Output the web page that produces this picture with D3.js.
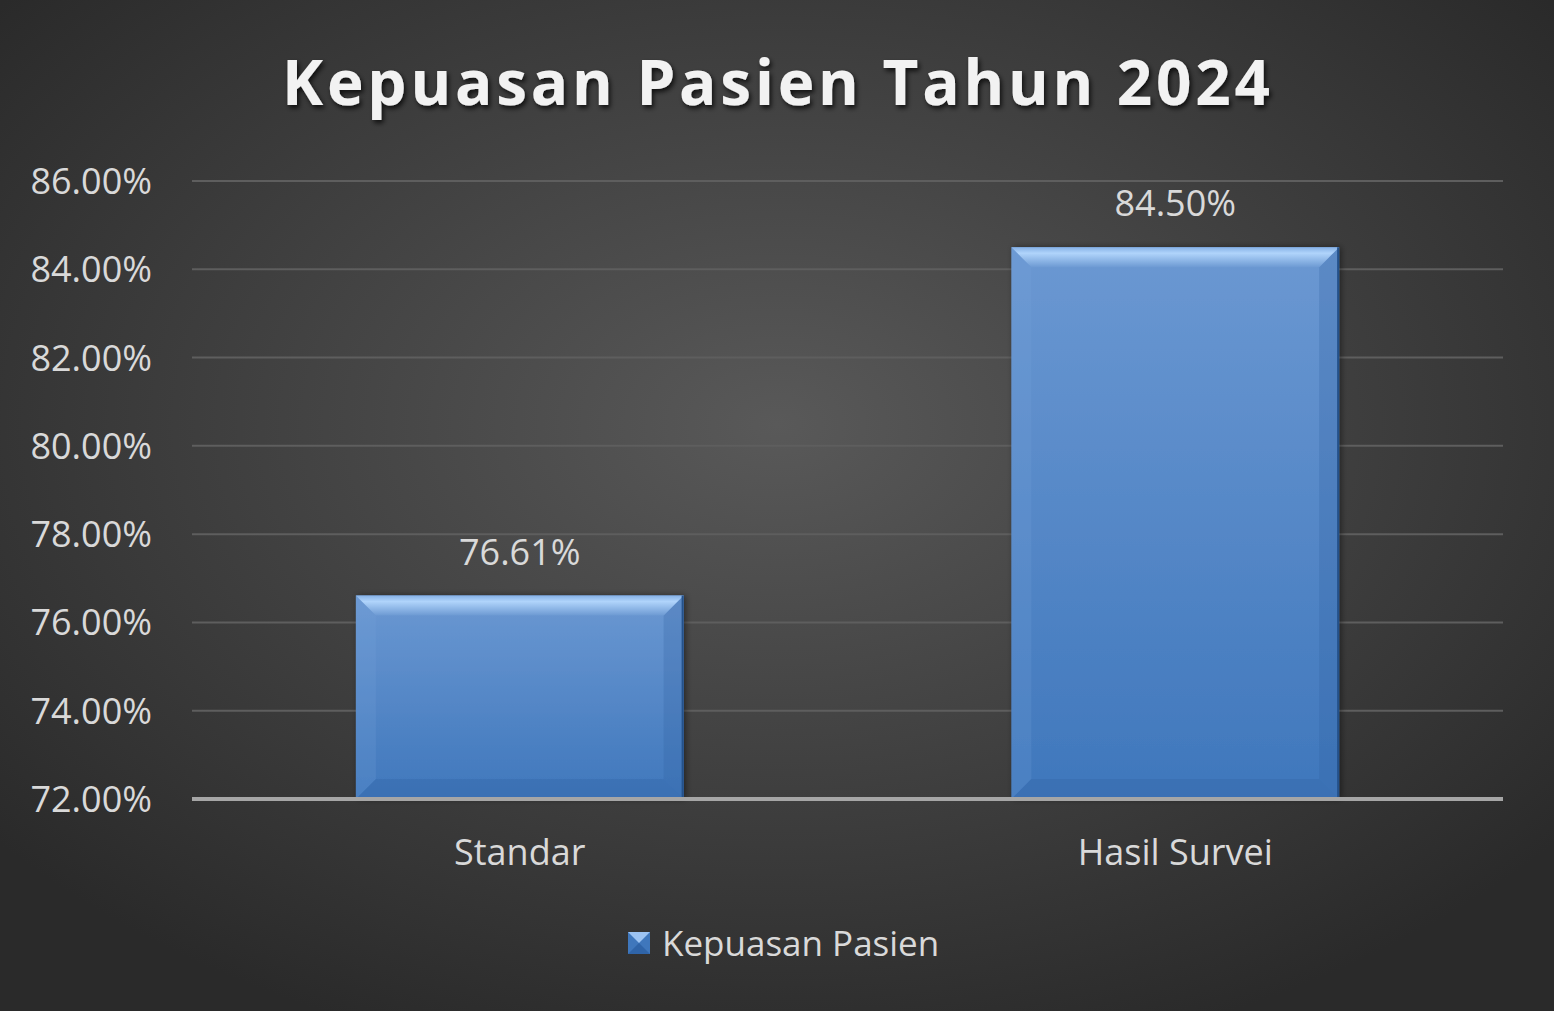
<!DOCTYPE html>
<html>
<head>
<meta charset="utf-8">
<script src="https://cdn.jsdelivr.net/npm/d3@7"></script>
<style>
  html, body { margin: 0; padding: 0; background: #2b2b2b; }
  svg { display: block; }
</style>
</head>
<body>
<div id="chart"></div>
<script>
// chart data
const categories = ['Standar', 'Hasil Survei'];
const values = [76.61, 84.50];
const yTicks = [72, 74, 76, 78, 80, 82, 84, 86];
const seriesName = 'Kepuasan Pasien';
const chartTitle = 'Kepuasan Pasien Tahun 2024';

const W = 1554, H = 1011;
const margin = {top: 181, right: 51, bottom: 212, left: 192};
const font = "'Open Sans', 'DejaVu Sans', sans-serif";

const svg = d3.select('#chart').append('svg')
    .attr('width', W)
    .attr('height', H);

const defs = svg.append('defs');

// background: lighter in the middle, darker at edges
const bg = defs.append('radialGradient')
    .attr('id', 'bgGrad')
    .attr('cx', '50%').attr('cy', '42%').attr('r', '65%');
bg.append('stop').attr('offset', '0%').attr('stop-color', '#595959');
bg.append('stop').attr('offset', '100%').attr('stop-color', '#2a2a2a');

// bar body
const barGrad = defs.append('linearGradient')
    .attr('id', 'barGrad')
    .attr('x1', 0).attr('y1', 0).attr('x2', 0).attr('y2', 1);
barGrad.append('stop').attr('offset', '0%').attr('stop-color', '#6b98d2');
barGrad.append('stop').attr('offset', '100%').attr('stop-color', '#3f77bc');

// top bevel highlight
const topGrad = defs.append('linearGradient')
    .attr('id', 'topGrad')
    .attr('x1', 0).attr('y1', 0).attr('x2', 0).attr('y2', 1);
topGrad.append('stop').attr('offset', '0%').attr('stop-color', '#86b1e6');
topGrad.append('stop').attr('offset', '30%').attr('stop-color', '#b0d4fb');
topGrad.append('stop').attr('offset', '100%').attr('stop-color', '#6d9ad3');

const shadow = defs.append('filter').attr('id', 'titleShadow')
    .attr('x', '-5%').attr('y', '-20%').attr('width', '110%').attr('height', '150%');
shadow.append('feDropShadow')
    .attr('dx', 2).attr('dy', 3).attr('stdDeviation', 2.5)
    .attr('flood-color', '#000').attr('flood-opacity', 0.75);

const barShadow = defs.append('filter').attr('id', 'barShadow')
    .attr('x', '-10%').attr('y', '-10%').attr('width', '120%').attr('height', '120%');
barShadow.append('feDropShadow')
    .attr('dx', 2).attr('dy', 0).attr('stdDeviation', 3)
    .attr('flood-color', '#000').attr('flood-opacity', 0.45);

svg.append('rect')
    .attr('width', W).attr('height', H)
    .attr('fill', 'url(#bgGrad)');

const innerW = W - margin.left - margin.right;
const innerH = H - margin.top - margin.bottom;

const x = d3.scaleBand()
    .domain(categories)
    .range([0, innerW])
    .paddingInner(0.5)
    .paddingOuter(0.25);

const y = d3.scaleLinear()
    .domain([d3.min(yTicks), d3.max(yTicks)])
    .range([innerH, 0]);

const g = svg.append('g')
    .attr('transform', 'translate(' + margin.left + ',' + margin.top + ')');

// gridlines
g.append('g').selectAll('line')
    .data(yTicks.slice(1))
    .enter().append('line')
    .attr('x1', 0).attr('x2', innerW)
    .attr('y1', d => y(d)).attr('y2', d => y(d))
    .attr('stroke', '#5e5e5e')
    .attr('stroke-width', 2);

// y tick labels
g.append('g').selectAll('text')
    .data(yTicks)
    .enter().append('text')
    .attr('x', -40)
    .attr('y', d => y(d) + 13)
    .attr('text-anchor', 'end')
    .attr('font-family', font)
    .attr('font-size', 36)
    .attr('fill', '#d9d9d9')
    .text(d => d.toFixed(2) + '%');

// bars with bevel
const bevel = 20;
const bars = g.append('g').selectAll('g.bar')
    .data(values)
    .enter().append('g')
    .attr('class', 'bar')
    .attr('transform', (d, i) => 'translate(' + x(categories[i]) + ',' + y(d) + ')');

bars.each(function(d) {
  const b = d3.select(this);
  const bw = x.bandwidth();
  const bh = innerH - y(d);
  b.append('rect')
      .attr('width', bw).attr('height', bh)
      .attr('fill', 'url(#barGrad)')
      .attr('filter', 'url(#barShadow)');
  // left bevel
  b.append('polygon')
      .attr('points', [[0, 0], [bevel, bevel], [bevel, bh - bevel], [0, bh]].join(' '))
      .attr('fill', '#7aa5dc').attr('opacity', 0.2);
  // right bevel
  b.append('polygon')
      .attr('points', [[bw, 0], [bw - bevel, bevel], [bw - bevel, bh - bevel], [bw, bh]].join(' '))
      .attr('fill', '#2f5f9e').attr('opacity', 0.25);
  // bottom bevel
  b.append('polygon')
      .attr('points', [[0, bh], [bevel, bh - bevel], [bw - bevel, bh - bevel], [bw, bh]].join(' '))
      .attr('fill', '#2d5d9c').attr('opacity', 0.25);
  // top bevel
  b.append('polygon')
      .attr('points', [[0, 0], [bw, 0], [bw - bevel, bevel], [bevel, bevel]].join(' '))
      .attr('fill', 'url(#topGrad)');
  b.append('line')
      .attr('x1', bw - 1).attr('x2', bw - 1).attr('y1', 0).attr('y2', bh)
      .attr('stroke', '#24518a').attr('stroke-width', 2);
});

// data labels
g.append('g').selectAll('text')
    .data(values)
    .enter().append('text')
    .attr('x', (d, i) => x(categories[i]) + x.bandwidth() / 2)
    .attr('y', d => y(d) - 31)
    .attr('text-anchor', 'middle')
    .attr('font-family', font)
    .attr('font-size', 36)
    .attr('fill', '#d9d9d9')
    .text(d => d.toFixed(2) + '%');

// x axis line
g.append('line')
    .attr('x1', 0).attr('x2', innerW)
    .attr('y1', innerH).attr('y2', innerH)
    .attr('stroke', '#a6a6a6')
    .attr('stroke-width', 4);

// category labels
g.append('g').selectAll('text')
    .data(categories)
    .enter().append('text')
    .attr('x', d => x(d) + x.bandwidth() / 2)
    .attr('y', innerH + 66)
    .attr('text-anchor', 'middle')
    .attr('font-family', font)
    .attr('font-size', 36)
    .attr('fill', '#d9d9d9')
    .text(d => d);

// title
svg.append('text')
    .attr('x', 776)
    .attr('y', 105)
    .attr('text-anchor', 'middle')
    .attr('font-family', font)
    .attr('font-weight', 'bold')
    .attr('font-size', 62)
    .attr('textLength', 988)
    .attr('lengthAdjust', 'spacing')
    .attr('fill', '#f2f2f2')
    .attr('filter', 'url(#titleShadow)')
    .text(chartTitle);

// legend
const legend = svg.append('g').attr('transform', 'translate(628,932)');
const ls = 22;
legend.append('rect').attr('width', ls).attr('height', ls).attr('fill', '#3f77bc');
legend.append('polygon')
    .attr('points', [[0, 0], [ls, 0], [ls / 2, ls / 2]].join(' '))
    .attr('fill', '#9cc3f2');
legend.append('polygon')
    .attr('points', [[0, ls], [ls, ls], [ls / 2, ls / 2]].join(' '))
    .attr('fill', '#2f64a8');
legend.append('text')
    .attr('x', 34)
    .attr('y', 24)
    .attr('font-family', font)
    .attr('font-size', 35)
    .attr('fill', '#d9d9d9')
    .text(seriesName);
</script>
</body>
</html>
